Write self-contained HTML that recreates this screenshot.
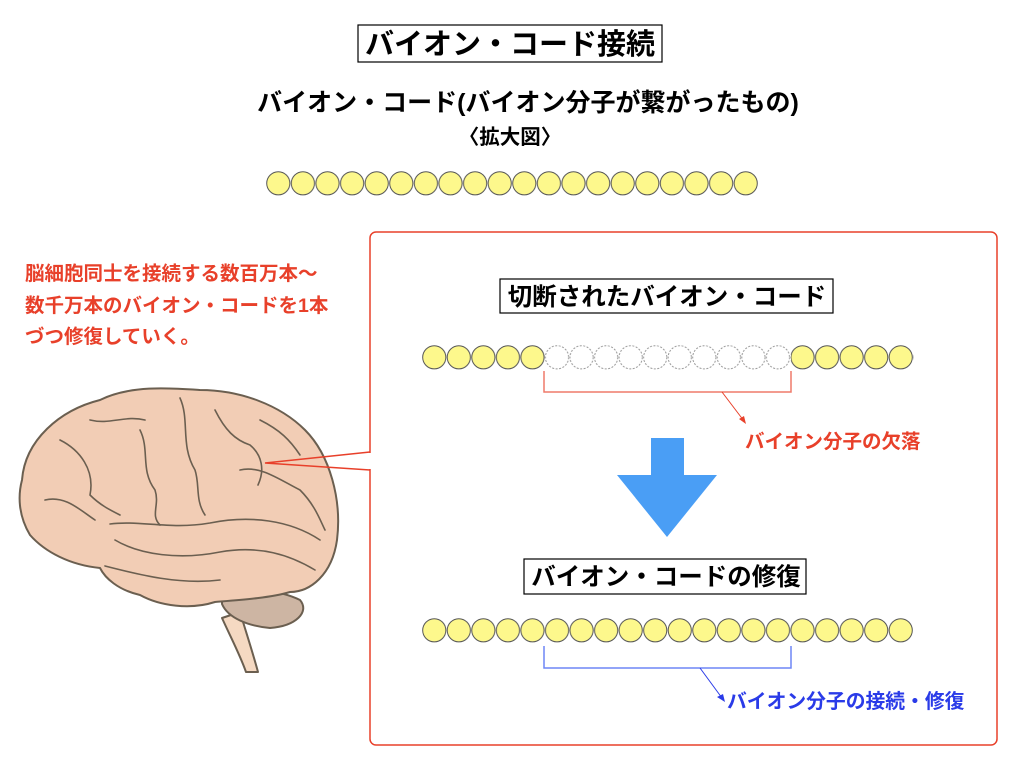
<!DOCTYPE html>
<html><head><meta charset="utf-8"><style>
html,body{margin:0;padding:0;background:#fff;}
svg text{font-family:"Liberation Sans","Noto Sans CJK JP",sans-serif;font-weight:bold;}
</style></head><body>
<svg width="1024" height="768" viewBox="0 0 1024 768" xmlns="http://www.w3.org/2000/svg">
<defs>
<pattern id="p1" x="266" y="171" width="24.6" height="25" patternUnits="userSpaceOnUse">
<circle cx="12.3" cy="12.3" r="11.6" fill="#fdf88c" stroke="#555" stroke-width="1"/></pattern>
<pattern id="p2" x="422" y="345" width="24.55" height="25" patternUnits="userSpaceOnUse">
<circle cx="12.27" cy="12.3" r="11.6" fill="#fdf88c" stroke="#555" stroke-width="1"/></pattern>
<pattern id="p3" x="422" y="345" width="24.55" height="25" patternUnits="userSpaceOnUse">
<circle cx="12.27" cy="12.3" r="11.6" fill="#fff" stroke="#999" stroke-width="1" stroke-dasharray="2,1.5"/></pattern>
<pattern id="p4" x="422" y="618" width="24.55" height="25" patternUnits="userSpaceOnUse">
<circle cx="12.27" cy="12.3" r="11.6" fill="#fdf88c" stroke="#555" stroke-width="1"/></pattern>
</defs>

<rect x="358" y="25" width="304" height="37" fill="#fff" stroke="#000" stroke-width="1.2"/>
<text x="510" y="54" font-size="29" text-anchor="middle">バイオン・コード接続</text>
<text x="528" y="111" font-size="25" text-anchor="middle">バイオン・コード(バイオン分子が繋がったもの)</text>
<text x="510" y="144" font-size="20.5" text-anchor="middle">〈拡大図〉</text>
<rect x="266" y="171" width="492" height="25" fill="url(#p1)"/>

<text font-size="19.5" fill="#e8402a">
<tspan x="25" y="280">脳細胞同士を接続する数百万本〜</tspan>
<tspan x="25" y="312">数千万本のバイオン・コードを1本</tspan>
<tspan x="25" y="343">づつ修復していく。</tspan></text>

<rect x="370" y="232" width="627" height="513" rx="6" fill="none" stroke="#e8402a" stroke-width="1.5"/>
<!-- brain -->
<g stroke="#6b5f50" stroke-width="2" stroke-linejoin="round" fill="#f2cdb5">
<path d="M222 618 C232 640 240 655 246 672 L258 672 C252 650 246 632 240 612 Z" fill="#f5d9c2"/>
<path d="M222 590 C238 585 280 590 300 600 C310 612 296 626 270 628 C248 626 228 618 222 604 Z" fill="#cdb5a3"/>
<path d="M22 480 C25 440 60 410 100 400 C130 385 170 388 200 390 C240 390 280 405 305 430 C330 455 342 500 337 540 C332 575 310 592 290 592 C270 598 240 600 215 602 C190 610 160 606 140 595 C118 590 105 578 100 568 C70 565 45 552 30 535 C18 515 18 495 22 480 Z"/>
</g>
<g stroke="#6b5f50" stroke-width="1.6" fill="none" stroke-linecap="round">
<path d="M110 524 C140 520 170 530 210 523 C250 515 290 520 320 540"/>
<path d="M115 540 C140 555 180 560 220 552 C260 545 290 555 315 570"/>
<path d="M105 566 C140 575 180 585 220 580"/>
<path d="M140 430 C150 450 140 470 155 490 C160 505 150 515 160 525"/>
<path d="M180 398 C190 420 180 445 195 470 C200 485 195 500 205 515"/>
<path d="M215 410 C225 430 235 440 250 445 C262 455 265 470 258 485"/>
<path d="M60 440 C80 450 95 470 90 495 C100 505 110 510 120 515"/>
<path d="M240 470 C260 465 280 480 300 490 C315 505 320 520 325 530"/>
<path d="M45 500 C65 495 80 510 95 520"/>
<path d="M90 420 C110 425 125 415 145 420"/>
<path d="M260 420 C280 430 290 440 300 455"/>
</g>
<polyline points="370,452 265,463 370,470" fill="none" stroke="#e8402a" stroke-width="1.5"/>
<rect x="368" y="453" width="4" height="16" fill="#fff"/>

<rect x="500" y="279" width="333" height="34" fill="#fff" stroke="#000" stroke-width="1.2"/>
<text x="667" y="305" font-size="24.5" text-anchor="middle">切断されたバイオン・コード</text>
<rect x="422" y="345" width="123" height="25" fill="url(#p2)"/>
<rect x="545" y="345" width="246" height="25" fill="url(#p3)"/>
<rect x="791" y="345" width="122.5" height="25" fill="url(#p2)"/>
<polyline points="544,371 544,392 791,392 791,371" fill="none" stroke="#ef7a6a" stroke-width="1.5"/>
<line x1="722" y1="392" x2="744" y2="421" stroke="#e8402a" stroke-width="1"/>
<polygon points="746,424 739,419 744,416" fill="#e8402a"/>
<text x="745" y="448" font-size="19.5" fill="#e8402a">バイオン分子の欠落</text>

<rect x="651" y="438" width="33" height="38" fill="#4a9ef5"/>
<polygon points="617,475 717,475 667,537" fill="#4a9ef5"/>

<rect x="524" y="559" width="282" height="35" fill="#fff" stroke="#000" stroke-width="1.2"/>
<text x="666" y="585" font-size="24.5" text-anchor="middle">バイオン・コードの修復</text>
<rect x="422" y="618" width="491" height="25" fill="url(#p4)"/>
<polyline points="544,646 544,668 791,668 791,646" fill="none" stroke="#6e86f5" stroke-width="1.5"/>
<line x1="700" y1="668" x2="722" y2="698" stroke="#2a3be8" stroke-width="1"/>
<polygon points="725,702 717,697 723,694" fill="#2a3be8"/>
<text x="727" y="708" font-size="19.8" fill="#2a3be8">バイオン分子の接続・修復</text>
</svg>
</body></html>
